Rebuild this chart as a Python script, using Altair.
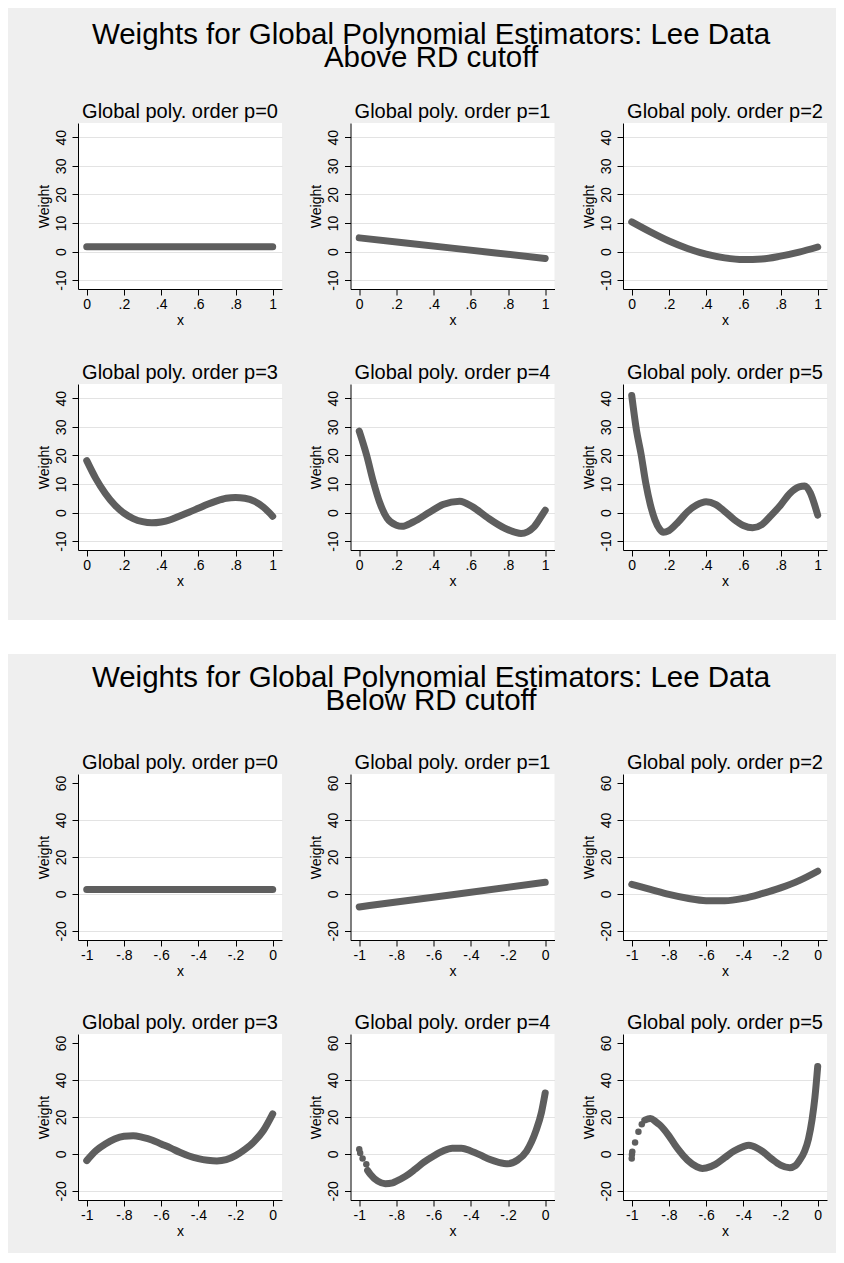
import altair as alt
import pandas as pd

BG = "#efefef"
INK = "#5e5e5e"
FONT = "Liberation Sans"

MAIN_TITLE = "Weights for Global Polynomial Estimators: Lee Data"
SUB_ABOVE = "Above RD cutoff"
SUB_BELOW = "Below RD cutoff"
PANEL_TITLES = ["Global poly. order p=0", "Global poly. order p=1", "Global poly. order p=2",
                "Global poly. order p=3", "Global poly. order p=4", "Global poly. order p=5"]

ABOVE_XTICKS = [0, 0.2, 0.4, 0.6, 0.8, 1]
ABOVE_YTICKS = [-10, 0, 10, 20, 30, 40]
BELOW_XTICKS = [-1, -0.8, -0.6, -0.4, -0.2, 0]
BELOW_YTICKS = [-20, 0, 20, 40, 60]

# ---- Above RD cutoff (x in [0, 1]) ----
A0_X = [0, 0.25, 0.5, 0.75, 1]
A0_W = [1.7, 1.7, 1.7, 1.7, 1.7]
A1_X = [0, 0.5, 1]
A1_W = [4.8, 1.2, -2.4]
A2_X = [0, 0.1, 0.2, 0.3, 0.4, 0.5, 0.6, 0.7, 0.8, 0.9, 1]
A2_W = [10.4, 6.9, 3.7, 1.1, -0.9, -2.2, -2.8, -2.6, -1.6, -0.2, 1.6]
A3_X = [0, 0.05, 0.1, 0.15, 0.2, 0.25, 0.3, 0.35, 0.4, 0.45, 0.5, 0.55, 0.6, 0.65, 0.7,
        0.75, 0.8, 0.85, 0.9, 0.95, 1]
A3_W = [18.2, 11.8, 6.7, 2.7, -0.2, -2.1, -3.2, -3.6, -3.3, -2.5, -1.2, 0.1, 1.5, 2.9, 4.1,
        5.0, 5.3, 5.0, 4.0, 1.9, -1.3]
A4_X = [0, 0.04, 0.075, 0.11, 0.15, 0.2, 0.23, 0.29, 0.38, 0.45, 0.54, 0.61, 0.69, 0.78,
        0.87, 0.94, 0.98, 1]
A4_W = [28.5, 20.0, 11.0, 3.5, -2.0, -4.4, -4.8, -3.3, 0.2, 2.8, 4.0, 2.0, -1.8, -5.4,
        -7.3, -5.0, -1.2, 0.8]
A5_X = [0, 0.025, 0.05, 0.075, 0.1, 0.125, 0.15, 0.17, 0.2, 0.25, 0.3, 0.35, 0.4, 0.45,
        0.5, 0.55, 0.6, 0.65, 0.7, 0.75, 0.8, 0.85, 0.9, 0.93, 0.96, 0.98, 1]
A5_W = [41.0, 29.0, 20.5, 10.5, 2.8, -2.6, -5.8, -6.9, -6.3, -3.3, 0.3, 2.7, 3.8, 2.9,
        0.4, -2.4, -4.5, -5.3, -4.2, -1.0, 2.6, 6.7, 9.0, 9.3, 6.9, 3.4, -0.9]

# ---- Below RD cutoff (x in [-1, 0]) ----
B0_X = [-1, -0.75, -0.5, -0.25, 0]
B0_W = [2.4, 2.4, 2.4, 2.4, 2.4]
B1_X = [-1, -0.5, 0]
B1_W = [-7.0, -0.4, 6.3]
B2_X = [-1, -0.9, -0.8, -0.7, -0.6, -0.5, -0.4, -0.3, -0.2, -0.1, 0]
B2_W = [5.2, 2.5, -0.2, -2.3, -3.6, -3.7, -2.4, 0.2, 3.3, 7.2, 12.3]
B3_X = [-1, -0.95, -0.9, -0.85, -0.8, -0.75, -0.7, -0.65, -0.6, -0.55, -0.5, -0.45, -0.4,
        -0.35, -0.3, -0.25, -0.2, -0.15, -0.1, -0.05, 0]
B3_W = [-3.6, 1.8, 5.4, 8.1, 9.6, 9.9, 9.0, 7.6, 5.4, 3.3, 0.9, -1.1, -2.5,
        -3.4, -3.8, -3.1, -0.9, 2.4, 6.7, 12.7, 21.7]
B4_X = [-0.955, -0.94, -0.9, -0.86, -0.82, -0.8, -0.75, -0.7, -0.65, -0.6, -0.55, -0.5,
        -0.45, -0.4, -0.35, -0.3, -0.25, -0.2, -0.15, -0.1, -0.05, -0.02, 0]
B4_W = [-8.9, -11.0, -14.7, -16.1, -15.6, -14.7, -12.0, -8.3, -4.3, -1.1, 1.6, 3.1,
        3.1, 1.6, -0.5, -2.9, -4.5, -5.3, -3.4, 1.6, 12.5, 22.5, 33.0]
B4_DOT_X = [-1.0, -0.995, -0.982, -0.962]
B4_DOT_W = [2.5, 0.5, -2.4, -5.6]
B5_X = [-0.93, -0.9, -0.87, -0.85, -0.8, -0.77, -0.75, -0.7, -0.65, -0.62, -0.6, -0.55,
        -0.5, -0.45, -0.4, -0.37, -0.35, -0.3, -0.25, -0.2, -0.15, -0.12, -0.1, -0.07,
        -0.05, -0.03, -0.015, 0]
B5_W = [18.3, 19.2, 17.4, 15.8, 9.8, 5.3, 2.5, -3.3, -6.9, -7.8, -7.6, -5.6,
        -2.0, 1.6, 4.0, 4.7, 4.3, 1.6, -2.5, -6.0, -7.4, -6.3, -3.8, 1.6,
        8.0, 18.8, 30.6, 47.3]
B5_DOT_X = [-1.0, -0.999, -0.997, -0.982, -0.964, -0.946]
B5_DOT_W = [-2.4, -0.3, 1.2, 6.2, 12.0, 16.1]

PW, PH = 204, 166


def pad_rect(x1, x2, y1, y2):
    return alt.Chart(alt.Data(values=[{"e": 1}])).mark_rect(color=BG, strokeWidth=0).encode(
        x=alt.value(x1), x2=alt.value(x2), y=alt.value(y1), y2=alt.value(y2))


def panel(xs, ws, title, xdom, ydom, xticks, yticks, dots=None, pads=()):
    xenc = alt.X("x:Q", scale=alt.Scale(domain=xdom, nice=False, zero=False),
                 axis=alt.Axis(values=xticks, title="x", grid=False,
                               labelExpr="replace(toString(datum.value), '0.', '.')",
                               labelPadding=2, titlePadding=2))
    yenc = alt.Y("w:Q", scale=alt.Scale(domain=ydom, nice=False, zero=False),
                 axis=alt.Axis(values=yticks, title="Weight", grid=True,
                               labelExpr="toString(datum.value)",
                               gridColor={"condition": {"test": "datum.value === 60",
                                                        "value": "transparent"},
                                          "value": "#e3e3e3"},
                               labelAngle=270, labelAlign="center",
                               labelBaseline="alphabetic", labelPadding=7,
                               titlePadding=3))
    line = alt.Chart(pd.DataFrame({"x": xs, "w": ws})).mark_line(
        color=INK, strokeWidth=7, strokeCap="round", strokeJoin="round",
        interpolate="monotone").encode(x=xenc, y=yenc)
    layers = [line]
    if dots is not None:
        layers.append(alt.Chart(pd.DataFrame({"x": dots[0], "w": dots[1]})).mark_circle(
            color=INK, size=42, opacity=1).encode(x="x:Q", y="w:Q"))
    layers.extend(pads)
    return alt.layer(*layers).properties(
        width=PW, height=PH,
        title=alt.TitleParams(title, fontSize=20, font=FONT, fontWeight="normal",
                              color="black", baseline="alphabetic", offset=-15,
                              anchor="middle", frame="group"))


ADOM_X, ADOM_Y = [-0.047, 1.05], [-13.1, 45.0]
BDOM_X, BDOM_Y = [-1.047, 0.05], [-24.9, 64.9]

above = [
    panel(A0_X, A0_W, PANEL_TITLES[0], ADOM_X, ADOM_Y, ABOVE_XTICKS, ABOVE_YTICKS,
          pads=[pad_rect(-70, -69, 0, 1)]),
    panel(A1_X, A1_W, PANEL_TITLES[1], ADOM_X, ADOM_Y, ABOVE_XTICKS, ABOVE_YTICKS),
    panel(A2_X, A2_W, PANEL_TITLES[2], ADOM_X, ADOM_Y, ABOVE_XTICKS, ABOVE_YTICKS,
          pads=[pad_rect(212, 213, 0, 1)]),
    panel(A3_X, A3_W, PANEL_TITLES[3], ADOM_X, ADOM_Y, ABOVE_XTICKS, ABOVE_YTICKS,
          pads=[pad_rect(0, 1, 235, 236)]),
    panel(A4_X, A4_W, PANEL_TITLES[4], ADOM_X, ADOM_Y, ABOVE_XTICKS, ABOVE_YTICKS),
    panel(A5_X, A5_W, PANEL_TITLES[5], ADOM_X, ADOM_Y, ABOVE_XTICKS, ABOVE_YTICKS),
]
below = [
    panel(B0_X, B0_W, PANEL_TITLES[0], BDOM_X, BDOM_Y, BELOW_XTICKS, BELOW_YTICKS,
          pads=[pad_rect(-70, -69, 0, 1)]),
    panel(B1_X, B1_W, PANEL_TITLES[1], BDOM_X, BDOM_Y, BELOW_XTICKS, BELOW_YTICKS),
    panel(B2_X, B2_W, PANEL_TITLES[2], BDOM_X, BDOM_Y, BELOW_XTICKS, BELOW_YTICKS,
          pads=[pad_rect(212, 213, 0, 1)]),
    panel(B3_X, B3_W, PANEL_TITLES[3], BDOM_X, BDOM_Y, BELOW_XTICKS, BELOW_YTICKS,
          pads=[pad_rect(0, 1, 218, 219)]),
    panel(B4_X, B4_W, PANEL_TITLES[4], BDOM_X, BDOM_Y, BELOW_XTICKS, BELOW_YTICKS,
          dots=(B4_DOT_X, B4_DOT_W)),
    panel(B5_X, B5_W, PANEL_TITLES[5], BDOM_X, BDOM_Y, BELOW_XTICKS, BELOW_YTICKS,
          dots=(B5_DOT_X, B5_DOT_W)),
]


def fig_title(sub, offset):
    return alt.TitleParams(MAIN_TITLE, subtitle=sub, fontSize=29.5, font=FONT,
                           fontWeight="normal", color="black",
                           subtitleFontSize=29.5, subtitleFont=FONT, subtitleColor="black",
                           subtitleFontWeight="normal", subtitlePadding=-6.5,
                           offset=offset, anchor="middle", dx=9)


fig1 = alt.concat(*above, columns=3, spacing={"row": 95, "column": 68.5}, bounds="flush",
                  title=fig_title(SUB_ABOVE, 29))
fig2 = alt.concat(*below, columns=3, spacing={"row": 94, "column": 68.5}, bounds="flush",
                  title=fig_title(SUB_BELOW, 37))

band = alt.layer(
    alt.Chart(alt.Data(values=[{"e": 1}])).mark_rect(color="white", strokeWidth=0).encode(
        x=alt.value(-70), x2=alt.value(758), y=alt.value(0), y2=alt.value(34)),
    alt.Chart(alt.Data(values=[{"e": 1}])).mark_rect(color=BG, strokeWidth=0).encode(
        x=alt.value(-70), x2=alt.value(758), y=alt.value(34), y2=alt.value(42)),
).properties(width=10, height=42)

chart = alt.vconcat(fig1, band, fig2, spacing=0).properties(
    background=BG, padding={"top": 11, "left": 0, "right": 0, "bottom": 0}
).configure_view(fill="white", stroke=None).configure_axis(
    domainColor="black", domainWidth=1, tickColor="black", tickSize=6, tickWidth=1,
    labelColor="black", titleColor="black", labelFont=FONT, titleFont=FONT,
    labelFontSize=14, titleFontSize=14, titleFontWeight="normal"
)

chart.save("out.html", embed_options={"renderer": "svg", "actions": False})
